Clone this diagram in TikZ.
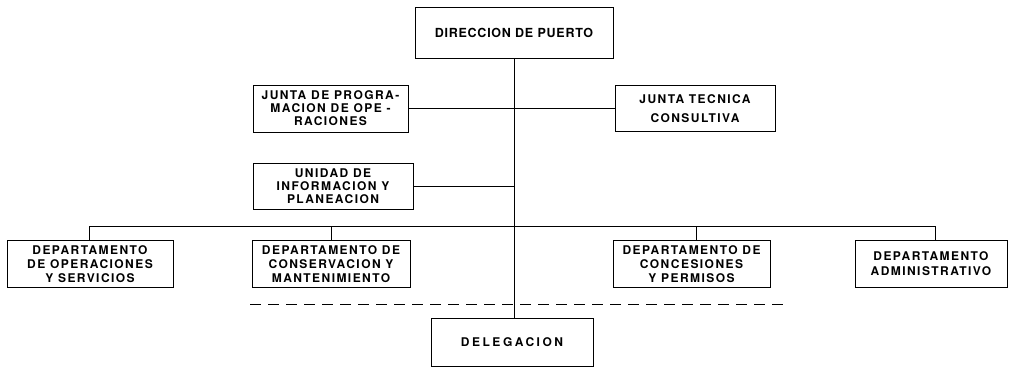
\documentclass[tikz,border=0pt]{standalone}
\usepackage{fontspec}
\usepackage{tikz}
\usetikzlibrary{positioning}
\newfontfamily\orgfont{TeX Gyre Heros}[LetterSpace=12]
\newfontfamily\orgtitle{TeX Gyre Heros}[LetterSpace=6]
\newfontfamily\orgwide{TeX Gyre Heros}[LetterSpace=21]

\begin{document}
\begin{tikzpicture} [on grid, line width=1pt,
  box/.style={rectangle, draw, inner sep=0pt, align=center,
    font=\orgfont\bfseries\fontsize{12}{14}\selectfont}]
\useasboundingbox (0,0) rectangle (1009pt,-367pt);

\node (0) [box, minimum width=198pt, minimum height=51pt,
  font=\orgtitle\bfseries\fontsize{12.5}{14}\selectfont] at (514pt,-32.5pt) {DIRECCION DE PUERTO};
\node (1) [box, minimum width=155pt, minimum height=47pt, below left=76pt and 183.5pt of 0,
  font=\orgfont\bfseries\fontsize{12}{13}\selectfont]
  {JUNTA DE PROGRA-\\MACION DE OPE -\\RACIONES};
\node (2) [box, minimum width=160pt, minimum height=46pt, right=364.5pt of 1,
  font=\orgfont\bfseries\fontsize{12}{19}\selectfont] {JUNTA TECNICA\\CONSULTIVA};
\node (3) [box, minimum width=160pt, minimum height=46pt, below right=77.5pt and 2.5pt of 1,
  font=\orgfont\bfseries\fontsize{12}{13.3}\selectfont]
  {UNIDAD DE\\INFORMACION Y\\PLANEACION};
\node (5) [box, minimum width=158pt, minimum height=47pt, below left=78pt and 2pt of 3]
  {DEPARTAMENTO DE\\CONSERVACION Y\\MANTENIMIENTO};
\node (4) [box, minimum width=166pt, minimum height=47pt, left=241pt of 5]
  {DEPARTAMENTO\\DE OPERACIONES\\Y SERVICIOS};
\node (6) [box, minimum width=157pt, minimum height=47pt, right=360.5pt of 5]
  {DEPARTAMENTO DE\\CONCESIONES\\Y PERMISOS};
\node (7) [box, minimum width=152pt, minimum height=47pt, right=239.5pt of 6,
  font=\orgfont\bfseries\fontsize{12}{15}\selectfont] {DEPARTAMENTO\\ADMINISTRATIVO};
\node (8) [box, minimum width=162pt, minimum height=48pt, below left=309.5pt and 2pt of 0,
  font=\orgwide\bfseries\fontsize{12}{14}\selectfont] {DELEGACION};

\coordinate (b1) at (89pt,-226pt);
\coordinate (b3) at (696pt,-226pt);
\coordinate (b4) at (935pt,-226pt);
\coordinate (d1) at (250pt,-304pt);
\coordinate (d2) at (785pt,-304pt);

\path [draw]
    (0) edge (0 |- 8.north)
    (1) edge (2)
    (3.east) edge (3.east -| 0)

    (b1) edge (b4)
    (b1) edge (b1 |- 4.north)
    (5.north |- b1) edge (5.north)
    (b3) edge (b3 |- 6.north)
    (b4) edge (b4 |- 7.north);

\draw [dash pattern=on 11pt off 7pt] (d1) -- (d2);
\end{tikzpicture}
\end{document}
